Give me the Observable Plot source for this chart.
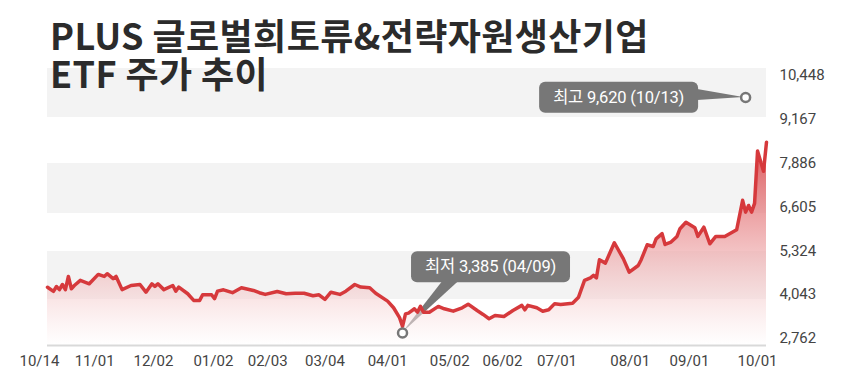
<!DOCTYPE html>
<html><head><meta charset="utf-8">
<script src="https://cdn.jsdelivr.net/npm/d3@7"></script>
<script src="https://cdn.jsdelivr.net/npm/@observablehq/plot@0.6"></script>
<style>
body{margin:0;background:#fff;}
#wrap{position:relative;width:860px;height:376px;overflow:hidden;}
#wrap svg{position:absolute;left:0;top:0;}
#title{position:absolute;left:50px;top:15px;font-family:"Noto Sans CJK KR","Noto Sans",sans-serif;font-weight:700;font-size:36px;line-height:38px;color:#2b2b2b;letter-spacing:0.4px;z-index:2;white-space:nowrap;}
</style></head><body>
<div id="wrap"><div id="title">PLUS 글로벌희토류&amp;전략자원생산기업<br>ETF 주가 추이</div></div>
<script>
// trading-day index (0 = 2024-10-14, 241 = 2025-10-13) and closing price
const dayIndex = [0,2,3,4,5,6,7,8,9,11,14,17,19,20,22,23,25,28,31,33,35,36,37,39,42,43,44,47,49,51,52,55,56,57,59,62,65,69,71,73,77,80,83,86,89,91,93,95,98,100,103,105,108,110,114,116,118,119,120,121,123,124,125,126,128,131,133,136,139,141,144,146,148,150,153,156,159,160,161,164,166,168,170,172,176,178,180,182,183,184,185,187,190,193,195,198,199,201,203,204,206,207,209,211,212,214,217,218,220,222,224,227,231,233,234,235,236,237,238,240,241];
const closePrice = [4260,4140,4280,4190,4340,4190,4575,4215,4310,4460,4360,4635,4575,4655,4510,4575,4190,4310,4340,4115,4360,4285,4360,4190,4310,4145,4265,4070,3875,3875,4040,4040,3925,4145,4185,4100,4245,4165,4100,4050,4135,4070,4085,4085,4010,4040,3905,4115,4050,4145,4340,4265,4245,4085,3855,3660,3370,3115,3480,3505,3630,3530,3700,3530,3530,3700,3630,3560,3660,3765,3580,3465,3340,3435,3405,3580,3730,3600,3730,3660,3560,3600,3780,3755,3795,3970,4460,4535,4605,4535,5065,4965,5560,5095,4700,4895,5065,5500,5450,5675,5825,5510,5580,5745,5970,6160,6000,5745,6015,5530,5745,5745,5940,6800,6455,6650,6455,6710,8240,7650,8500];

// where each date label sits along the trading-day axis
const tickPos = [-2.7,15.8,35.5,55.6,73.8,93,114,134.8,152.5,170.8,195.3,215.2,238];
const tickLabel = ["10/14","11/01","12/02","01/02","02/03","03/04","04/01","05/02","06/02","07/01","08/01","09/01","10/01"];
const yTicks = [2762,4043,5324,6605,7886,9167,10448];
const yDomain = [2557,10653];
const xDomain = [0,241];
const bandLow = [9221,6416,3903];
const bandHigh = [10653,7877,5306];
const annIndex = [234,119];
const annValue = [9806,2924];
const annText = ["최고 9,620 (10/13)","최저 3,385 (04/09)"];

const series = dayIndex.map((d,k)=>({i:d, v:closePrice[k]}));
const bands = bandLow.map((lo,k)=>({x1:xDomain[0], x2:xDomain[1], lo, hi:bandHigh[k]}));
const ann = annIndex.map((d,k)=>({i:d, v:annValue[k], t:annText[k]}));
const labelOf = new Map(tickPos.map((d,k)=>[d,tickLabel[k]]));

const defs = () => {
  const g = d3.create("svg:defs");
  const lg = g.append("linearGradient").attr("id","areaGrad").attr("x1",0).attr("x2",0).attr("y1",0).attr("y2",1);
  lg.append("stop").attr("offset","0%").attr("stop-color","#d8393d").attr("stop-opacity",0.85);
  lg.append("stop").attr("offset","100%").attr("stop-color","#ffffff").attr("stop-opacity",0.5);
  return g.node();
};

const fontFam = "Roboto, 'Noto Sans CJK KR', sans-serif";
const plot = Plot.plot({
  width:860, height:376,
  marginLeft:47, marginRight:94, marginTop:68, marginBottom:31,
  x:{domain:xDomain, axis:null},
  y:{domain:yDomain, axis:null},
  style:{fontFamily:fontFam, fontSize:"15px", color:"#444", background:"transparent", overflow:"visible"},
  marks:[
    defs,
    Plot.rect(bands,{x1:"x1",x2:"x2",y1:"lo",y2:"hi",fill:"#f3f3f3"}),
    Plot.areaY(series,{x:"i",y1:yDomain[0],y2:"v",fill:"url(#areaGrad)",className:"area"}),
    Plot.ruleY([yDomain[0]],{x1:xDomain[0],x2:xDomain[1],stroke:"#d9d9d9",strokeWidth:2}),
    Plot.line(series,{x:"i",y:"v",stroke:"#d6393c",strokeWidth:3.5}),
    Plot.dot(ann,{x:"i",y:"v",r:4.5,fill:"white",stroke:"#777",strokeWidth:2.5}),
    Plot.text([ann[0]],{x:"i",y:"v",text:"t",dx:-127,dy:0,fill:"white",fontSize:16.5,className:"annmax"}),
    Plot.text([ann[1]],{x:"i",y:"v",text:"t",dx:88,dy:-66,fill:"white",fontSize:16.5,className:"annmin"}),
    Plot.axisX({ticks:tickPos, tickFormat:d=>labelOf.get(d), tickSize:0, tickPadding:10, fontSize:15}),
    Plot.axisY({anchor:"right", ticks:yTicks, tickFormat:d3.format(","), tickSize:0, tickPadding:13, fontSize:15})
  ]
});
document.getElementById("wrap").insertBefore(plot, document.getElementById("title"));

// annotation boxes and pointers
const sx = plot.scale("x"), sy = plot.scale("y");
const NS = "http://www.w3.org/2000/svg";
const areaG = plot.querySelector("g.area");
const svgRect = plot.getBoundingClientRect();
function annotate(cls, a, wedge){
  const g = plot.querySelector("g."+cls);
  const txt = g.querySelector("text");
  txt.setAttribute("letter-spacing","-0.2");
  const bb = txt.getBoundingClientRect();
  const tx = bb.left - svgRect.left, ty = bb.top - svgRect.top;
  const padX = 14, h = 31;
  const cyT = ty + bb.height/2;
  const bx1 = tx - padX, bx2 = tx + bb.width + padX, by1 = cyT - h/2, by2 = cyT + h/2;
  const r = document.createElementNS(NS,"rect");
  r.setAttribute("x",bx1); r.setAttribute("y",by1); r.setAttribute("width",bx2-bx1); r.setAttribute("height",h);
  r.setAttribute("rx",6); r.setAttribute("fill","#777");
  g.parentNode.insertBefore(r, g);
  const cx = sx.apply(a.i), cy = sy.apply(a.v);
  const pts = wedge(cx,cy,bx1,bx2,by1,by2);
  const p = document.createElementNS(NS,"polygon");
  p.setAttribute("points", pts.map(q=>q.join(",")).join(" "));
  p.setAttribute("fill","#777");
  areaG.parentNode.insertBefore(p, areaG);
}
annotate("annmax", ann[0], (cx,cy,bx1,bx2,by1,by2)=>[[bx2-1,cy-8],[bx2-1,cy+3],[cx-2,cy]]);
annotate("annmin", ann[1], (cx,cy,bx1,bx2,by1,by2)=>[[cx+40,by2-1],[cx+56,by2-1],[cx,cy]]);
</script>
</body></html>
